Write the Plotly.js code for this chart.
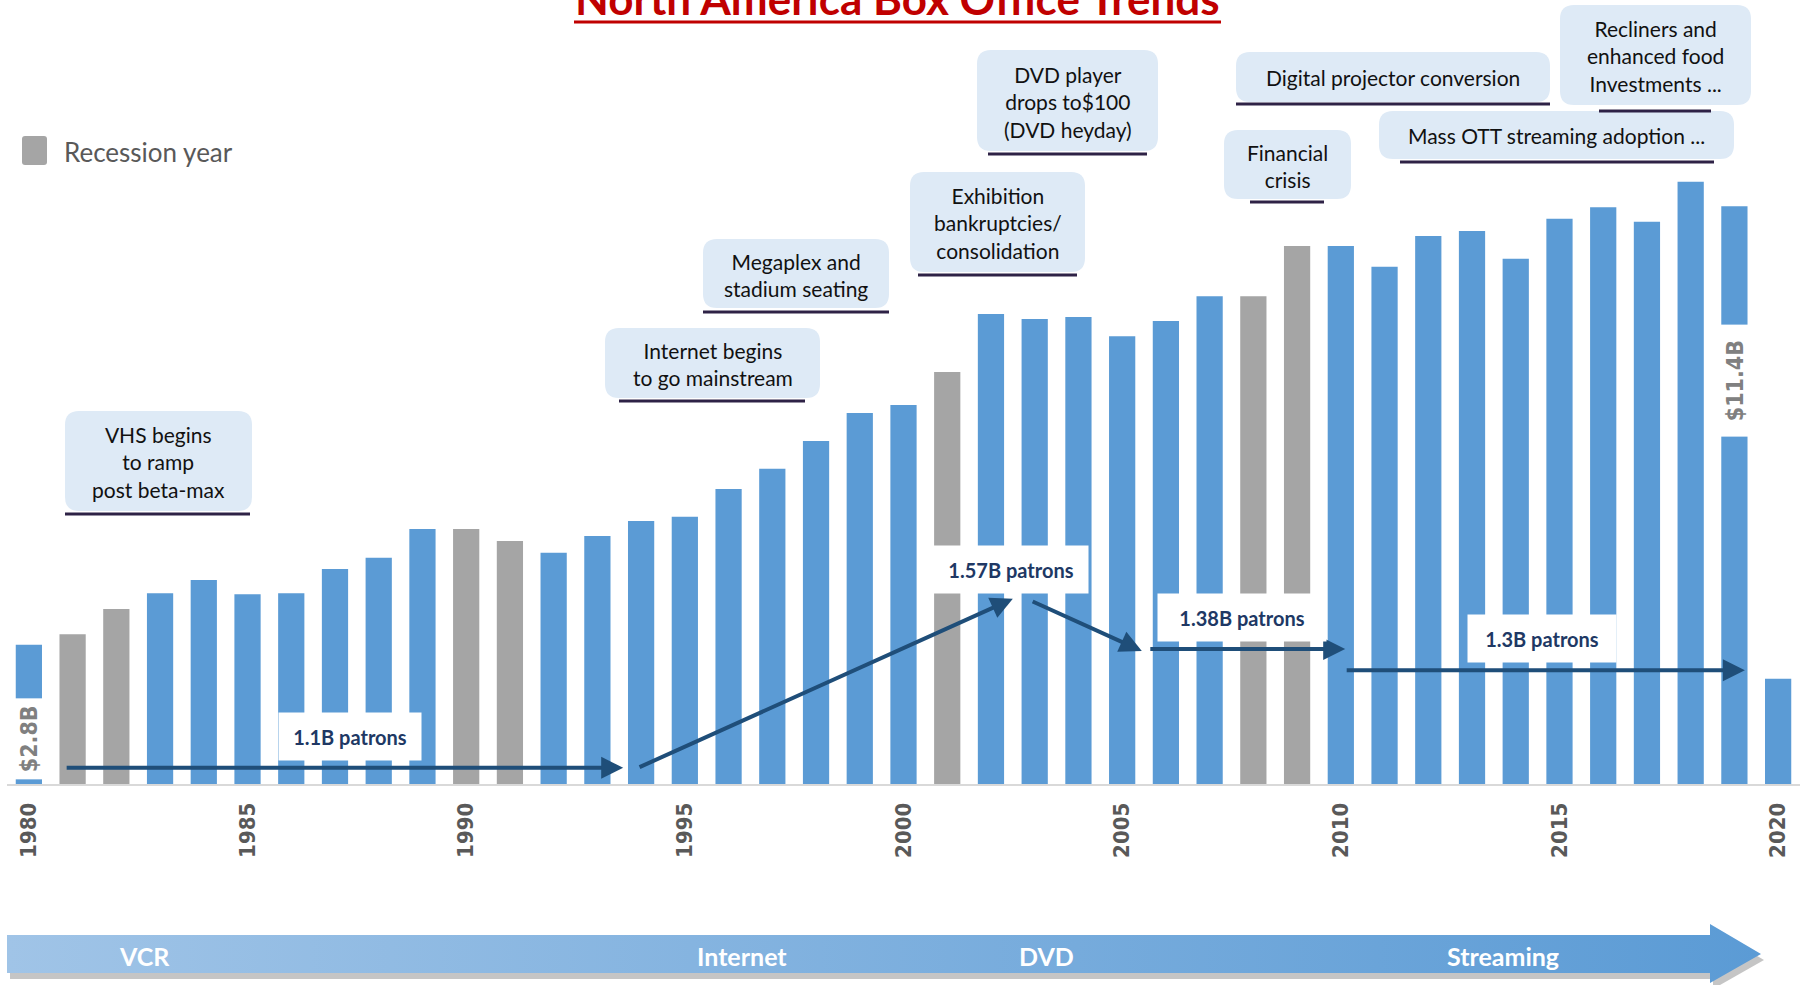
<!DOCTYPE html>
<html>
<head>
<meta charset="utf-8">
<script src="https://cdn.plot.ly/plotly-3.0.1.min.js"></script>
<style>
    html, body { margin: 0; padding: 0; background: #fff; }
    #chart { width: 1810px; height: 985px; }
</style>
</head>
<body>
<div id="chart"></div>
<script>
// North America box office, $B per year
const years = [1980, 1981, 1982, 1983, 1984, 1985, 1986, 1987, 1988, 1989,
               1990, 1991, 1992, 1993, 1994, 1995, 1996, 1997, 1998, 1999,
               2000, 2001, 2002, 2003, 2004, 2005, 2006, 2007, 2008, 2009,
               2010, 2011, 2012, 2013, 2014, 2015, 2016, 2017, 2018, 2019, 2020];
const boxOffice = [2.75, 2.96, 3.46, 3.77, 4.03, 3.75, 3.77, 4.25, 4.47, 5.04,
                   5.04, 4.80, 4.57, 4.90, 5.20, 5.28, 5.83, 6.23, 6.78, 7.33,
                   7.49, 8.14, 9.29, 9.19, 9.23, 8.85, 9.15, 9.64, 9.64, 10.63,
                   10.63, 10.22, 10.83, 10.93, 10.38, 11.17, 11.40, 11.11, 11.90, 11.42, 2.08];
const recessionYears = [1981, 1982, 1990, 1991, 2001, 2008, 2009];
const tickYears = [1980, 1985, 1990, 1995, 2000, 2005, 2010, 2015, 2020];
const labelledYears = [1980, 2019];

const patronLabels = ['1.1B patrons', '1.57B patrons', '1.38B patrons', '1.3B patrons'];
const eraLabels = ['VCR', 'Internet', 'DVD', 'Streaming'];
const eventNotes = [
    'VHS begins<br>to ramp<br>post beta-max',
    'Internet begins<br>to go mainstream',
    'Megaplex and<br>stadium seating',
    'Exhibition<br>bankruptcies/<br>consolidation',
    'DVD player<br>drops to$100<br>(DVD heyday)',
    'Financial<br>crisis',
    'Digital projector conversion',
    'Recliners and<br>enhanced food<br>Investments ...',
    'Mass OTT streaming adoption ...'
];

// colours
const BLUE = '#5b9bd5';
const GREY = '#a5a5a5';
const NAVY = '#1f4e79';
const BOX_FILL = '#deeaf6';
const UNDERLINE = '#2e2246';
const TEXT_FONT = 'Lato, "Open Sans", sans-serif';
const TICK_FONT = '"DejaVu Sans Condensed", "DejaVu Sans", sans-serif';

// figure geometry (px)
const W = 1810, H = 985;
const M = { l: 7, r: 10, t: 25, b: 0 };
const baseline = 784;
const plotW = W - M.l - M.r;
const plotH = H - M.t - M.b;

// pixel -> paper helpers for decorations
const px = x => (x - M.l) / plotW;
const py = y => (H - M.b - y) / plotH;

function roundRect(x0, y0, x1, y1, r) {
    const p = (x, y) => px(x) + ',' + py(y);
    return 'M' + p(x0 + r, y0) + 'L' + p(x1 - r, y0) + 'Q' + p(x1, y0) + ' ' + p(x1, y0 + r) +
        'L' + p(x1, y1 - r) + 'Q' + p(x1, y1) + ' ' + p(x1 - r, y1) +
        'L' + p(x0 + r, y1) + 'Q' + p(x0, y1) + ' ' + p(x0, y1 - r) +
        'L' + p(x0, y0 + r) + 'Q' + p(x0, y0) + ' ' + p(x0 + r, y0) + 'Z';
}

// bars
const barColors = years.map(y => recessionYears.includes(y) ? GREY : BLUE);
const bars = {
    type: 'bar',
    x: years,
    y: boxOffice,
    marker: { color: barColors },
    hoverinfo: 'x+y',
    xaxis: 'x',
    yaxis: 'y'
};

// era arrow along the bottom (drawn on a pixel-unit helper axis)
const bandX = [7, 1710, 1710, 1761, 1710, 1710, 7, 7];
const bandY = [935, 935, 924, 954, 983, 973, 973, 935];
const bandShadow = {
    type: 'scatter', mode: 'none', fill: 'toself',
    x: bandX.map(v => v + 3), y: bandY.map(v => v + 6),
    fillcolor: 'rgba(110,110,110,0.4)',
    hoverinfo: 'skip', xaxis: 'x2', yaxis: 'y2'
};
const band = {
    type: 'scatter', mode: 'none', fill: 'toself',
    x: bandX, y: bandY,
    fillcolor: '#7eaedd',
    fillgradient: { type: 'horizontal', colorscale: [[0, '#a0c4e7'], [1, '#5b9bd5']] },
    hoverinfo: 'skip', xaxis: 'x2', yaxis: 'y2'
};
const eraX = [144, 742, 1046, 1503];

const annotations = [];
const shapes = [];

// title
annotations.push({
    xref: 'paper', yref: 'paper', x: px(897), y: py(-2),
    xanchor: 'center', yanchor: 'middle', showarrow: false,
    text: '<b>North America Box Office Trends</b>',
    font: { family: TEXT_FONT, size: 44, color: '#c00000' }
});
shapes.push({
    type: 'line', xref: 'paper', yref: 'paper',
    x0: px(574), x1: px(1221), y0: py(22), y1: py(22),
    line: { color: '#c00000', width: 3 }
});

// legend for recession bars
shapes.push({
    type: 'path', xref: 'paper', yref: 'paper',
    path: roundRect(22, 136, 47, 165, 3),
    fillcolor: GREY, line: { width: 0 }
});
annotations.push({
    xref: 'paper', yref: 'paper', x: px(62), y: py(152),
    xanchor: 'left', yanchor: 'middle', showarrow: false,
    text: 'Recession year',
    font: { family: TEXT_FONT, size: 26, color: '#595959' }
});

// event call-outs: box, text, underline (px)
const eventBoxes = [
    { box: [65, 411, 252, 511], ul: [65, 250, 514] },
    { box: [605, 328, 820, 398], ul: [619, 805, 401] },
    { box: [703, 239, 889, 308], ul: [703, 889, 312] },
    { box: [910, 172, 1085, 272], ul: [918, 1077, 275] },
    { box: [977, 50, 1158, 151], ul: [988, 1147, 154] },
    { box: [1224, 130, 1351, 199], ul: [1250, 1324, 202] },
    { box: [1236, 52, 1550, 102], ul: [1236, 1550, 104] },
    { box: [1560, 5, 1751, 105], ul: [1599, 1711, 111] },
    { box: [1379, 111, 1734, 159], ul: [1400, 1714, 162] }
];
eventNotes.forEach((note, i) => {
    const b = eventBoxes[i].box, u = eventBoxes[i].ul;
    shapes.push({
        type: 'path', xref: 'paper', yref: 'paper',
        path: roundRect(b[0], b[1], b[2], b[3], 14),
        fillcolor: BOX_FILL, line: { width: 0 }, layer: 'below'
    });
    shapes.push({
        type: 'line', xref: 'paper', yref: 'paper',
        x0: px(u[0]), x1: px(u[1]), y0: py(u[2]), y1: py(u[2]),
        line: { color: UNDERLINE, width: 3 }
    });
    annotations.push({
        xref: 'paper', yref: 'paper',
        x: px((b[0] + b[2]) / 2), y: py((b[1] + b[3]) / 2 + 1),
        xanchor: 'center', yanchor: 'middle', showarrow: false,
        text: note, align: 'center',
        font: { family: TEXT_FONT, size: 21, color: '#111111' }
    });
});

// value labels inside the first and last full bars
labelledYears.forEach((yr, i) => {
    const v = boxOffice[years.indexOf(yr)];
    annotations.push({
        xref: 'x', yref: 'y', x: yr, y: i === 0 ? 0.89 : 7.97,
        showarrow: false, textangle: -90,
        text: '<b>$' + v.toFixed(1) + 'B</b>',
        width: i === 0 ? 80 : 111, height: 32,
        bgcolor: '#ffffff', borderpad: 0,
        font: { family: TICK_FONT, size: 23, color: '#808080' }
    });
});

// patron trend arrows [tail x, tail y, head x, head y] in axis units
const patronArrows = [
    [1980.83, 0.32, 1993.59, 0.32],
    [1993.93, 0.32, 2002.50, 3.66],
    [2002.92, 3.62, 2005.45, 2.63],
    [2005.61, 2.67, 2010.10, 2.67],
    [2010.10, 2.25, 2019.24, 2.25]
];
patronArrows.forEach(a => {
    annotations.push({
        xref: 'x', yref: 'y', axref: 'x', ayref: 'y',
        x: a[2], y: a[3], ax: a[0], ay: a[1],
        text: '', showarrow: true,
        arrowhead: 2, arrowsize: 1.1, arrowwidth: 4, arrowcolor: NAVY,
        standoff: 0, startstandoff: 0
    });
});

// patron labels on white panels
const patronPos = [
    { x: 1987.34, y: 0.94, w: 142 },
    { x: 2002.46, y: 4.24, w: 154 },
    { x: 2007.74, y: 3.29, w: 168 },
    { x: 2014.60, y: 2.88, w: 148 }
];
patronLabels.forEach((t, i) => {
    const p = patronPos[i];
    annotations.push({
        xref: 'x', yref: 'y', x: p.x, y: p.y,
        showarrow: false, text: '<b>' + t + '</b>',
        width: p.w, height: 47, bgcolor: '#ffffff', borderpad: 0,
        font: { family: TEXT_FONT, size: 20, color: '#203864' }
    });
});

// era labels on the bottom arrow
eraLabels.forEach((t, i) => {
    annotations.push({
        xref: 'x2', yref: 'y2', x: eraX[i], y: 956,
        showarrow: false, text: '<b>' + t + '</b>',
        font: { family: TEXT_FONT, size: 25, color: '#ffffff' }
    });
});

const layout = {
    width: W,
    height: H,
    margin: M,
    paper_bgcolor: '#ffffff',
    plot_bgcolor: 'rgba(0,0,0,0)',
    showlegend: false,
    bargap: 0.4,
    xaxis: {
        domain: [0, 1],
        anchor: 'y',
        range: [1979.5, 2020.5],
        tickmode: 'array',
        tickvals: tickYears,
        ticktext: tickYears.map(String),
        tickangle: -90,
        tickfont: { family: TICK_FONT, size: 22, color: '#595959', weight: 'bold' },
        ticklabelstandoff: 8,
        ticks: '',
        showgrid: false,
        zeroline: false,
        showline: true,
        linecolor: '#d9d9d9',
        linewidth: 2
    },
    yaxis: {
        domain: [py(baseline), 1],
        anchor: 'x',
        range: [0, 15],
        visible: false
    },
    xaxis2: {
        domain: [0, 1],
        anchor: 'y2',
        range: [M.l, W - M.r],
        visible: false
    },
    yaxis2: {
        domain: [0, 0.2],
        anchor: 'x2',
        range: [H, H - 0.2 * plotH],
        visible: false
    },
    shapes: shapes,
    annotations: annotations
};

Plotly.newPlot('chart', [bandShadow, band, bars], layout, { displayModeBar: false, responsive: false });
</script>
</body>
</html>
